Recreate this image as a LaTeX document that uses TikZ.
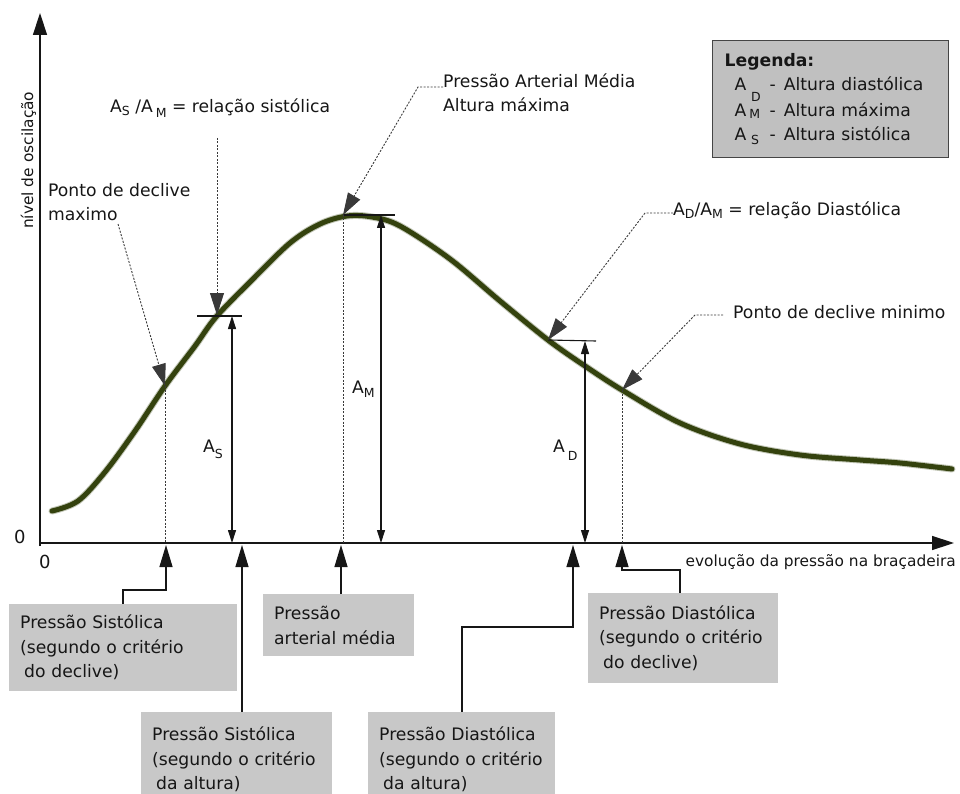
\documentclass[tikz,border=0pt]{standalone}
\usepackage{fontspec}
\setmainfont{DejaVu Sans}
\usetikzlibrary{arrows.meta}

\definecolor{boxgray}{RGB}{200,200,200}
\definecolor{leggray}{RGB}{192,192,192}
\definecolor{curveol}{RGB}{52,66,14}
\definecolor{ink}{RGB}{22,22,22}

\newcommand{\mainfs}{\fontsize{17.2}{24.5}\selectfont}
\newcommand{\smallfs}{\fontsize{15.4}{18}\selectfont}
% lowered index letter, sized for the large labels
\newcommand{\lowidx}[2][3pt]{\raisebox{-#1}{\fontsize{12.5}{12.5}\selectfont #2}}
% one legend entry: symbol, dash, meaning
\newcommand{\legentry}[2]{\hspace*{10pt}\makebox[35pt][l]{#1}-\hspace{8pt}#2}

\tikzset{
  axisline/.style={line width=1.4pt, ink, -{Triangle[length=22pt,width=14pt]}},
  dimarrow/.style={line width=1.1pt, ink, {Triangle[length=13pt,width=8pt]}-{Triangle[length=13pt,width=8pt]}},
  tickline/.style={line width=1.1pt, ink},
  guide/.style={line width=0.9pt, ink!85, dash pattern=on 2pt off 1.5pt},
  leader/.style={guide, -{Triangle[length=22pt,width=14pt]}},
  connector/.style={line width=1.2pt, ink, -{Triangle[length=22pt,width=13pt]}},
  lbl/.style={font=\mainfs, text=ink, inner sep=0pt, anchor=base west, align=left},
  infobox/.style={fill=boxgray, font=\mainfs, text=ink, inner ysep=0pt, inner xsep=11pt,
                  align=left, anchor=north west},
}

\begin{document}
\begin{tikzpicture}[x=1pt,y=-1pt]
\useasboundingbox (0,0) rectangle (960,794);

% ---- axes ----
\coordinate (O) at (40,543);
\coordinate (ytop) at (40,13);
\coordinate (xend) at (954,543);
\draw[axisline] (40,546) -- (ytop);
\draw[axisline] (O) -- (xend);
\node[lbl, font=\fontsize{18}{20}\selectfont] (zeroy) at (14,543) {0};
\node[lbl, font=\fontsize{18}{20}\selectfont] (zerox) at (39,568) {0};
\node[lbl, font=\smallfs, rotate=90] (ylab) at (33,229) {nível de oscilação};
\node[lbl, font=\smallfs, anchor=base east] (xlab) at (956,566) {evolução da pressão na braçadeira};

% ---- oscillation envelope ----
\def\envelope{(52,511) (78,501) (105,472) (135,431) (165,386) (195,346) (216,317)
  (250,282) (290,243) (320,224) (347,216) (372,217) (400,226) (450,259) (500,301)
  (548,340) (585,366) (622,390) (680,423) (740,444) (800,455) (860,460) (900,463) (952,469)}
\draw[curveol, opacity=.3, line width=7pt, line cap=round] plot[smooth, tension=.55] coordinates {\envelope};
\draw[curveol, line width=5pt, line cap=round] plot[smooth, tension=.55] coordinates {\envelope};

% ---- characteristic points on the envelope ----
\coordinate (pS) at (165,386);   % steepest rise
\coordinate (hS) at (217,315);   % systolic height
\coordinate (hM) at (343,215);   % maximum
\coordinate (hD) at (548,340);   % diastolic height
\coordinate (pD) at (622,390);   % steepest fall

% ---- heights ----
\draw[tickline] (197,316) -- (242,316);
\draw[dimarrow] (232,316) -- (232,543);
\node[lbl] (lAS) at (203,452) {A\lowidx[6pt]{S}};

\draw[tickline] (hM) -- (395,215);
\draw[dimarrow] (381,215) -- (381,543);
\node[lbl] (lAM) at (352,393) {A\lowidx[4pt]{M}};

\draw[tickline] (hD) -- (596,341);
\draw[dimarrow] (585,341) -- (585,543);
\node[lbl] (lAD) at (553,452) {A\,\lowidx[8pt]{D}};

% ---- vertical guides ----
\draw[guide] (pS) -- (pS |- O);
\draw[guide] (hM) -- (hM |- O);
\draw[guide] (pD) -- (pD |- O);

% ---- annotations above the curve ----
\node[lbl] (rsis) at (110,113) {A\lowidx{S} /A\,\lowidx[5pt]{M} = relação sistólica};
\coordinate (rsisq) at (217,138);
\draw[leader] (rsisq) -- (hS);

\node[lbl] (pmax) at (48,221) {Ponto de declive\\maximo};
\coordinate (pmaxq) at (118,224);
\draw[leader] (pmaxq) -- (pS);

\node[lbl] (pam) at (443,112) {Pressão Arterial Média\\Altura máxima};
\coordinate (pamk) at (418,87);
\draw[leader] (pamk -| pam.west) -- (pamk) -- (hM);

\node[lbl] (rdia) at (673,215) {A\lowidx{D}/A\lowidx{M} = relação Diastólica};
\coordinate (rdiak) at (645,213);
\draw[leader] (rdiak -| rdia.west) -- (rdiak) -- (hD);

\node[lbl] (pmin) at (733,318) {Ponto de declive minimo};
\coordinate (pmink) at (695,315);
\draw[leader] ([xshift=-10pt]pmink -| pmin.west) -- (pmink) -- (pD);

% ---- legend ----
\node[draw=ink!80, line width=1.3pt, fill=leggray, font=\mainfs, text=ink, align=left,
      anchor=north west, minimum width=236pt, minimum height=117pt,
      text width=212pt, inner xsep=12pt] (legend) at (712,40)
  {\textbf{Legenda:}\\
   \legentry{A\;\lowidx[11pt]{D}}{Altura diastólica}\\
   \legentry{A\,\lowidx[2pt]{M}}{Altura máxima}\\
   \legentry{A\;\lowidx[4pt]{S}}{Altura sistólica}};

% ---- pressure readings below the axis ----
\node[infobox, minimum width=228pt, minimum height=87pt, text width=206pt] (b1) at (9,604)
  {Pressão Sistólica\\(segundo o critério\\\hspace*{4pt}do declive)};
\node[infobox, minimum width=191pt, minimum height=95pt, text width=169pt] (b2) at (141,712)
  {Pressão Sistólica\\(segundo o critério\\\hspace*{4pt}da altura)};
\node[infobox, minimum width=151pt, minimum height=62pt, text width=129pt] (b3) at (263,594)
  {Pressão\\arterial média};
\node[infobox, minimum width=187pt, minimum height=95pt, text width=165pt] (b4) at (368,712)
  {Pressão Diastólica\\(segundo o critério\\\hspace*{4pt}da altura)};
\node[infobox, minimum width=190pt, minimum height=90pt, text width=168pt] (b5) at (588,593)
  {Pressão Diastólica\\(segundo o critério\\\hspace*{4pt}do declive)};

\coordinate (xs1) at (166,545);
\coordinate (xs2) at (242,545);
\coordinate (xs3) at (341,545);
\coordinate (xs4) at (573,545);
\coordinate (xs5) at (622,545);
\coordinate (e1) at (123,590);
\coordinate (e4) at (462,627);
\coordinate (e5) at (680,570);

\draw[connector] (e1 |- b1.north) -- (e1) -| (xs1);
\draw[connector] (xs2 |- b2.north) -- (xs2);
\draw[connector] (xs3 |- b3.north) -- (xs3);
\draw[connector] (e4 |- b4.north) -- (e4) -| (xs4);
\draw[connector] (e5 |- b5.north) -- (e5) -| (xs5);

\end{tikzpicture}
\end{document}
